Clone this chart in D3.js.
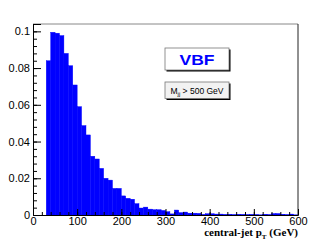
<!DOCTYPE html>
<html>
<head>
<meta charset="utf-8">
<script src="https://cdn.jsdelivr.net/npm/d3@7"></script>
<style>
  body { margin: 0; background: #fff; }
  svg { display: block; }
</style>
</head>
<body>
<script>
const width = 332;
const height = 240;

// bin lower edges (GeV), 10 GeV wide
const binEdges = d3.range(30, 600, 10);
// normalised entries per bin
const binValues = [
  0.0840, 0.0995, 0.0990, 0.0977, 0.0880, 0.0813, 0.0708, 0.0590, 0.0487, 0.0436,
  0.0320, 0.0305, 0.0254, 0.0200, 0.0190, 0.0145, 0.0145, 0.0104, 0.0091, 0.0086,
  0.0062, 0.0038, 0.0043, 0.0032, 0.0029, 0.0029, 0.0025, 0.0018, 0.0006, 0.0027,
  0.0013, 0.0016, 0.0010, 0.0010, 0.0009, 0.0003, 0.0007, 0.0007, 0.0005, 0.0005,
  0.0003, 0.0004, 0.0002, 0.0004, 0.0003, 0.0002, 0.0003, 0.0002, 0.0001, 0.0004,
  0.0002, 0.0008, 0.0008, 0.0004, 0.0002, 0.0005, 0.0001
];
const xTicks = [0, 100, 200, 300, 400, 500, 600];
const yTicks = [0, 0.02, 0.04, 0.06, 0.08, 0.1];

const padLeft = 33, padRight = 298, padTop = 24, padBottom = 215;

let svg = d3.select('body').append('svg')
            .attr('width', width)
            .attr('height', height);

const x = d3.scaleLinear().domain([0, 600]).range([padLeft, padRight]);
const y = d3.scaleLinear().domain([0, 0.104]).range([padBottom, padTop]);

// histogram
svg.append('g')
   .selectAll('rect')
   .data(binEdges)
   .enter()
   .append('rect')
   .attr('x', d => x(d))
   .attr('y', (d, i) => y(binValues[i]))
   .attr('width', d => x(d + 10) - x(d))
   .attr('height', (d, i) => y(0) - y(binValues[i]))
   .attr('fill', '#0000ff')
   .attr('stroke', '#0000ff')
   .attr('stroke-width', 0.4);

// frame
svg.append('line').attr('x1', padLeft).attr('x2', padRight).attr('y1', padTop).attr('y2', padTop)
   .attr('stroke', '#888').attr('stroke-width', 1);
svg.append('line').attr('x1', padRight).attr('x2', padRight).attr('y1', padTop).attr('y2', padBottom)
   .attr('stroke', '#222').attr('stroke-width', 1);

const tickFont = 'Liberation Sans, Arial, sans-serif';

// y axis
svg.append('g')
   .attr('transform', `translate(${padLeft},0)`)
   .call(d3.axisLeft(y).tickValues(yTicks).tickSize(-8).tickPadding(3)
        .tickFormat(d => String(+d.toFixed(2))));
svg.append('g')
   .attr('transform', `translate(${padLeft},0)`)
   .call(d3.axisLeft(y).tickValues(d3.range(0, 0.1041, 0.004)).tickSize(-4).tickFormat(''))
   .call(g => g.select('.domain').remove());

// x axis
svg.append('g')
   .attr('transform', `translate(0,${padBottom})`)
   .call(d3.axisBottom(x).tickValues(xTicks).tickSize(-6).tickPadding(2));
svg.append('g')
   .attr('transform', `translate(0,${padBottom})`)
   .call(d3.axisBottom(x).tickValues(d3.range(0, 601, 20)).tickSize(-3).tickFormat(''))
   .call(g => g.select('.domain').remove());

svg.selectAll('.tick text')
   .attr('font-family', tickFont)
   .attr('font-size', 11)
   .attr('fill', '#000');
svg.selectAll('.domain, .tick line').attr('stroke', '#000');

// x title
let xTitle = svg.append('text')
   .attr('x', padRight)
   .attr('y', 236)
   .attr('text-anchor', 'end')
   .attr('font-family', 'Liberation Serif, Times New Roman, serif')
   .attr('font-weight', 'bold')
   .attr('font-size', 11);
xTitle.append('tspan').text('central-jet p');
xTitle.append('tspan').attr('font-size', 7).attr('dy', 3).text('T');
xTitle.append('tspan').attr('dy', -3).text(' (GeV)');

// legend boxes
function box(x0, y0, w, h, fill) {
  svg.append('rect').attr('x', x0 + 1.5).attr('y', y0 + 1.5).attr('width', w).attr('height', h)
     .attr('fill', '#000');
  svg.append('rect').attr('x', x0).attr('y', y0).attr('width', w).attr('height', h)
     .attr('fill', fill).attr('stroke', '#777').attr('stroke-width', 0.8);
}

box(165, 48, 64, 22, '#fff');
svg.append('text')
   .attr('x', 197).attr('y', 65)
   .attr('text-anchor', 'middle')
   .attr('font-family', tickFont)
   .attr('font-weight', 'bold')
   .attr('font-size', 14)
   .attr('textLength', 35)
   .attr('lengthAdjust', 'spacingAndGlyphs')
   .attr('fill', '#0000ff')
   .text('VBF');

box(165, 82, 64, 16.5, '#f2f2f2');
let cut = svg.append('text')
   .attr('x', 197).attr('y', 93.5)
   .attr('text-anchor', 'middle')
   .attr('font-family', tickFont)
   .attr('font-size', 8.5)
   .attr('fill', '#000');
cut.append('tspan').text('M');
cut.append('tspan').attr('font-size', 6).attr('dy', 2).text('jj');
cut.append('tspan').attr('dy', -2).text(' > 500 GeV');
</script>
</body>
</html>
